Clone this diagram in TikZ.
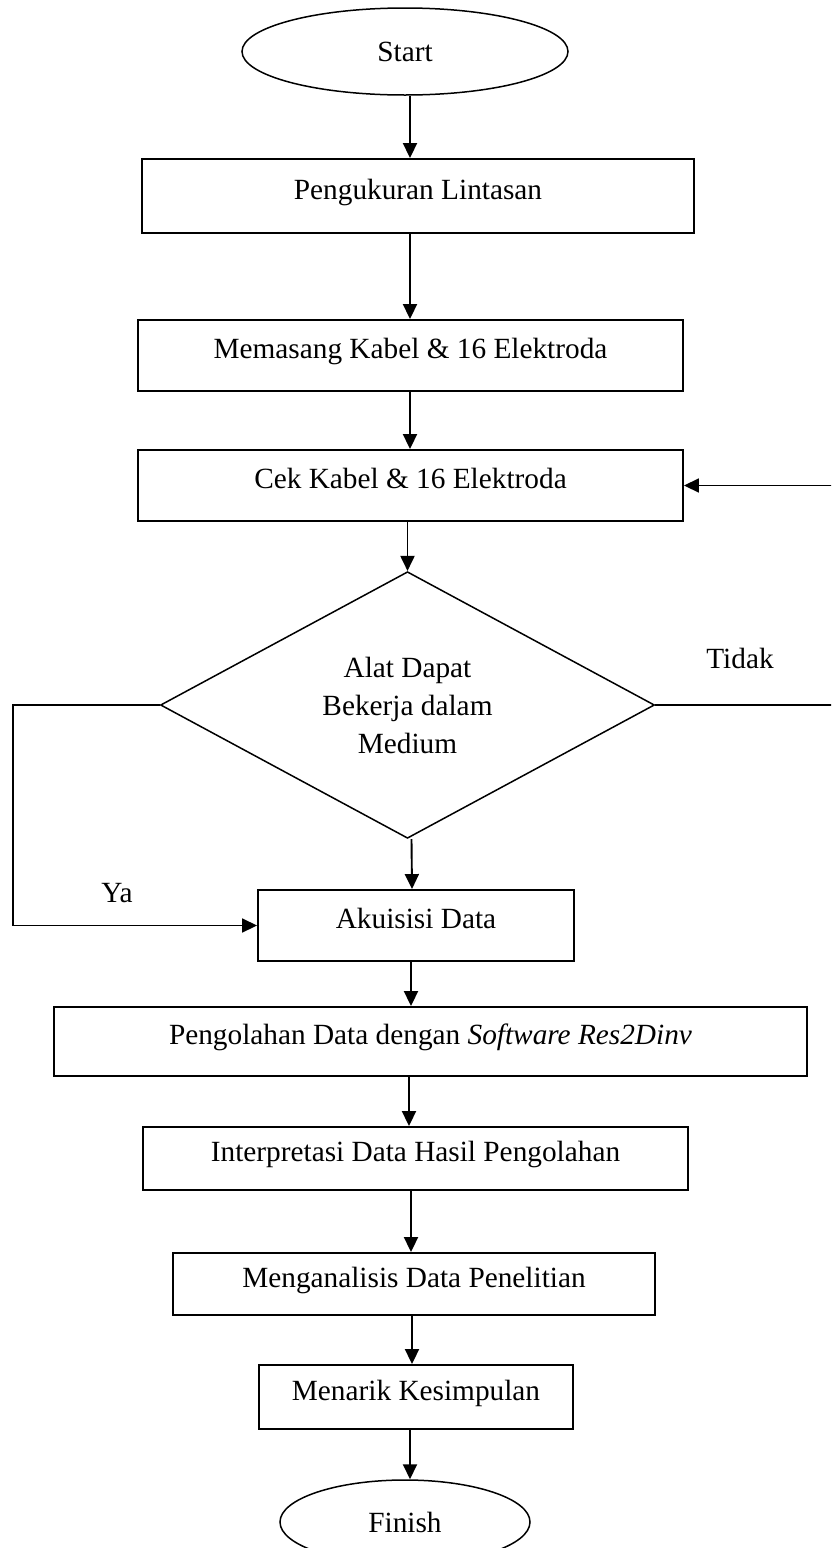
\documentclass[tikz,border=0pt]{standalone}
\usepackage{fontspec}
\setmainfont{Liberation Serif}
\usetikzlibrary{shapes.geometric,arrows.meta}
\begin{document}
\begin{tikzpicture}[x=1pt,y=-1pt,
  txt/.style={font=\fontsize{29.3}{38}\selectfont},
  procbox/.style={draw,line width=1.9pt,rectangle,inner sep=0pt,txt,text height=19pt,text depth=13pt},
  term/.style={draw,line width=1.5pt,ellipse,inner sep=0pt,txt},
  decbox/.style={draw,line width=1.5pt,diamond,inner sep=0pt,txt,align=center},
  arr/.style={line width=1.9pt,-{Triangle[length=15pt,width=14pt]}},
  lin/.style={line width=1.6pt}]
\useasboundingbox (0,0) rectangle (831,1548);
\begin{scope}
\clip (0,0) rectangle (831,1548);
\node[term,minimum width=326pt,minimum height=87pt] (start) at (405,51.5) {Start};
\node[procbox,minimum width=552pt,minimum height=74pt] (b1) at (418,196) {Pengukuran Lintasan};
\node[procbox,minimum width=545pt,minimum height=71pt] (b2) at (410.5,355.5) {Memasang Kabel \& 16 Elektroda};
\node[procbox,minimum width=545pt,minimum height=71pt] (b3) at (410.5,485.5) {Cek Kabel \& 16 Elektroda};
\node[decbox,minimum width=494pt,minimum height=266pt] (dec) at (407.5,705) {Alat Dapat\\Bekerja dalam\\Medium};
\node[procbox,minimum width=316pt,minimum height=71pt] (b4) at (416,925.5) {Akuisisi Data};
\node[procbox,minimum width=753pt,minimum height=69pt] (b5) at (430.5,1041.5) {Pengolahan Data dengan \textit{Software Res2Dinv}};
\node[procbox,minimum width=545pt,minimum height=63pt] (b6) at (415.5,1158.5) {Interpretasi Data Hasil Pengolahan};
\node[procbox,minimum width=482pt,minimum height=62pt] (b7) at (414,1284) {Menganalisis Data Penelitian};
\node[procbox,minimum width=314pt,minimum height=64pt] (b8) at (416,1397) {Menarik Kesimpulan};
\node[term,minimum width=250pt,minimum height=84pt] (finish) at (405,1522) {Finish};
\node[txt,anchor=base] (tidak) at (740,668) {Tidak};
\node[txt,anchor=base] (ya) at (117,902) {Ya};
\coordinate (lc) at (13,705);
\coordinate (rc) at (834,705);
\draw[arr] ([xshift=5pt]start.south) -- ([xshift=-8pt]b1.north);
\draw[arr] ([xshift=-8pt]b1.south) -- ([xshift=-0.5pt]b2.north);
\draw[arr] ([xshift=-0.5pt]b2.south) -- ([xshift=-0.5pt]b3.north);
\draw[arr] (b3.south -| dec.north) -- (dec.north);
\draw[arr] ([xshift=4pt]dec.south) -- ([xshift=-4pt]b4.north);
\draw[arr,line width=1.7pt] (dec.west) -- (lc) |- (b4.west);
\draw[arr,line width=1.7pt] (dec.east) -- (rc) |- (b3.east);
\draw[arr] ([xshift=-5pt]b4.south) -- ([xshift=-19.5pt]b5.north);
\draw[arr] ([xshift=-21.5pt]b5.south) -- ([xshift=-6.5pt]b6.north);
\draw[arr] ([xshift=-4.5pt]b6.south) -- ([xshift=-3pt]b7.north);
\draw[arr] ([xshift=-2pt]b7.south) -- ([xshift=-4pt]b8.north);
\draw[arr] ([xshift=-6pt]b8.south) -- ([xshift=5pt]finish.north);
\end{scope}
\end{tikzpicture}
\end{document}
